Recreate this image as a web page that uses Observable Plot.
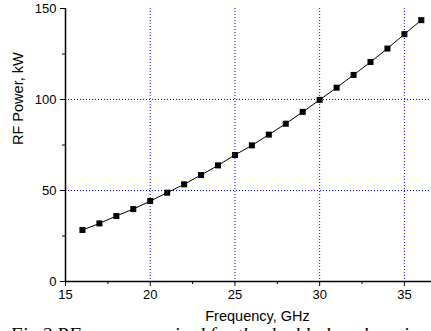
<!DOCTYPE html>
<html>
<head>
<meta charset="utf-8">
<script src="https://cdn.jsdelivr.net/npm/d3@7"></script>
<script src="https://cdn.jsdelivr.net/npm/@observablehq/plot@0.6"></script>
<style>
  html, body { margin: 0; padding: 0; background: #fff; overflow: hidden; }
  #chart svg { display: block; }
  #caption { font: italic 19.5px "Liberation Serif", "Times New Roman", serif; line-height: 18px; margin-top: 2px; padding-left: 10px; white-space: nowrap; color: #000; }
</style>
</head>
<body>
<div id="chart"></div>
<div id="caption">Fig.2 RF power required for the double-bunch regime</div>
<script>
const freqs = [16, 17, 18, 19, 20, 21, 22, 23, 24, 25, 26, 27, 28, 29, 30, 31, 32, 33, 34, 35, 36];
const power = [28.3, 31.9, 36.0, 39.8, 44.2, 48.8, 53.4, 58.5, 63.8, 69.5, 74.8, 80.7, 86.7, 93.2, 99.8, 106.5, 113.5, 120.6, 128.0, 135.9, 143.6];
const xTicks = [15, 20, 25, 30, 35];
const xMinorTicks = [17.5, 22.5, 27.5, 32.5];
const yTicks = [0, 50, 100, 150];
const yMinorTicks = [25, 75, 125];
const xGrid = [20, 25, 30, 35];
const yGrid = [50, 100];
const xLabel = "Frequency, GHz";
const yLabel = "RF Power, kW";

const data = freqs.map((f, i) => ({f, p: power[i]}));

const chart = Plot.plot({
  width: 431,
  height: 324,
  marginLeft: 65,
  marginRight: 0,
  marginTop: 8,
  marginBottom: 43,
  style: {background: "#fff", fontFamily: "'Liberation Sans', Arial, sans-serif", color: "#000", overflow: "visible"},
  x: {domain: [15, 36.6]},
  y: {domain: [0, 150]},
  marks: [
    Plot.ruleX(xGrid, {stroke: "#0000ff", strokeDasharray: "1,2", strokeWidth: 1}),
    Plot.ruleY(yGrid, {stroke: "#0000ff", strokeDasharray: "1,2", strokeWidth: 1}),
    Plot.line(data, {x: "f", y: "p", stroke: "#000", strokeWidth: 1}),
    Plot.dot(data, {x: "f", y: "p", symbol: "square", fill: "#000", stroke: "none", r: 3.4}),
    Plot.axisY({ticks: yTicks, tickSize: 5, tickPadding: 4, fontSize: 13, label: null, stroke: "#000", strokeWidth: 1}),
    Plot.axisY({ticks: yMinorTicks, tickSize: 3, tickFormat: () => "", label: null, stroke: "#000", strokeWidth: 1}),
    Plot.axisX({ticks: xTicks, tickSize: 5, tickPadding: 3, fontSize: 13, label: null, stroke: "#000", strokeWidth: 1}),
    Plot.axisX({ticks: xMinorTicks, tickSize: 3, tickFormat: () => "", label: null, stroke: "#000", strokeWidth: 1}),
    Plot.ruleX([15], {stroke: "#000", strokeWidth: 1.5}),
    Plot.ruleY([0], {stroke: "#000", strokeWidth: 1.5}),
    Plot.text([xLabel], {frameAnchor: "bottom", dx: 9, dy: 39, fontSize: 14.5, fill: "#000"}),
    Plot.text([yLabel], {frameAnchor: "left", dx: -47, rotate: -90, fontSize: 14.5, fill: "#000"})
  ]
});
document.getElementById("chart").appendChild(chart);
</script>
</body>
</html>
